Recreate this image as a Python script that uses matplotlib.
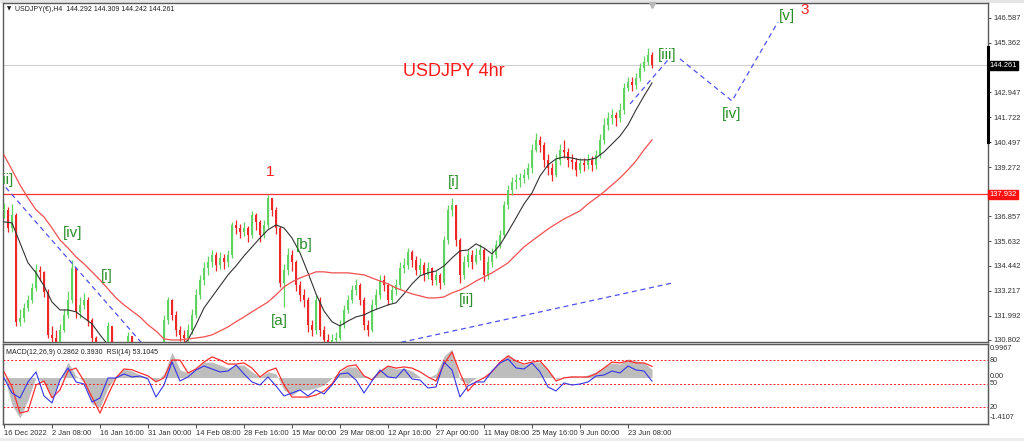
import matplotlib
matplotlib.use("Agg")
import matplotlib.pyplot as plt
import matplotlib.transforms as mtransforms
from matplotlib.patches import Rectangle
import numpy as np

plt.rcParams["font.family"] = ["Liberation Sans", "DejaVu Sans"]

# ---- data ----
# one candle per column
closes = [
    137.18, 136.29, 136.93, 131.69, 131.88, 132.37, 132.76, 133.35, 134.23, 134.14,
    133.16, 131.05, 130.90, 130.70, 131.29, 132.03, 132.76, 134.33, 132.18, 132.52,
    132.76, 131.78, 130.90, 130.21, 129.60, 129.20, 131.50, 129.80, 129.00, 128.40,
    128.90, 131.00, 129.60, 128.60, 128.00, 127.60, 127.90, 128.50, 129.20, 129.90,
    131.78, 132.76, 132.03, 131.29, 131.05, 130.90, 131.29, 132.03, 133.01, 133.74,
    134.33, 134.63, 134.97, 134.48, 134.82, 134.63, 134.97, 136.44, 136.29, 136.10,
    136.29, 135.95, 136.93, 136.59, 135.95, 136.44, 137.76, 137.18, 136.29, 133.60,
    134.23, 134.97, 134.63, 133.50, 133.01, 132.76, 131.54, 131.29, 132.76, 131.29,
    130.80, 130.56, 130.80, 130.90, 131.54, 132.27, 132.76, 133.25, 133.50, 132.76,
    131.54, 131.29, 132.52, 133.01, 133.74, 133.50, 132.76, 133.25, 133.50, 134.33,
    134.48, 135.12, 134.72, 134.23, 134.48, 133.99, 134.33, 133.74, 133.99, 133.60,
    135.70, 137.18, 137.42, 135.70, 133.99, 134.63, 134.97, 134.63, 134.97, 135.21,
    133.99, 134.63, 134.97, 135.46, 135.95, 137.42, 138.16, 138.55, 138.65, 138.74,
    138.89, 139.23, 140.12, 140.61, 140.36, 139.63, 139.23, 138.89, 139.63, 140.12,
    140.02, 139.63, 139.53, 139.14, 139.48, 139.38, 139.63, 139.38, 139.87, 140.61,
    141.34, 141.68, 141.83, 141.68, 142.08, 143.16, 143.45, 143.30, 143.65, 144.14,
    144.43, 144.77, 144.261,
]
highs = [
    137.50, 137.30, 137.45, 137.00, 132.30, 132.60, 133.00, 133.60, 134.50, 134.45,
    134.20, 133.30, 131.50, 131.30, 131.60, 132.30, 133.20, 134.70, 134.20, 132.90,
    133.10, 132.90, 131.90, 131.00, 130.30, 129.80, 131.70, 131.40, 129.90, 129.10,
    129.30, 131.20, 131.00, 129.80, 128.80, 128.20, 128.20, 128.70, 129.40, 130.20,
    132.00, 132.90, 132.80, 132.20, 131.50, 131.30, 131.60, 132.30, 133.30, 134.00,
    134.60, 134.90, 135.20, 135.10, 135.10, 135.00, 135.20, 136.60, 136.70, 136.50,
    136.60, 136.40, 137.10, 137.00, 136.70, 136.70, 137.93, 137.70, 137.30, 136.40,
    134.50, 135.30, 135.20, 134.70, 133.70, 133.30, 132.90, 131.80, 133.00, 132.90,
    131.50, 131.10, 131.10, 131.20, 131.80, 132.50, 133.00, 133.50, 133.80, 133.60,
    132.90, 131.80, 132.80, 133.30, 134.00, 134.00, 133.60, 133.50, 133.80, 134.60,
    134.80, 135.30, 135.20, 134.90, 134.80, 134.60, 134.60, 134.40, 134.20, 134.10,
    135.90, 137.40, 137.76, 137.40, 135.80, 134.90, 135.20, 135.20, 135.30, 135.50,
    135.30, 134.90, 135.30, 135.70, 136.20, 137.60, 138.40, 138.80, 138.95, 139.00,
    139.20, 139.50, 140.40, 140.95, 140.80, 140.50, 139.90, 139.50, 139.90, 140.40,
    140.60, 140.20, 139.90, 139.70, 139.70, 139.70, 139.90, 139.80, 140.10, 140.90,
    141.70, 142.00, 142.10, 142.00, 142.40, 143.40, 143.70, 143.70, 143.90, 144.40,
    144.70, 145.10, 144.90,
]
lows = [
    136.80, 136.10, 136.10, 131.50, 131.50, 131.70, 132.20, 132.60, 133.20, 133.70,
    132.90, 130.90, 130.60, 130.40, 130.50, 131.20, 131.90, 132.60, 131.90, 131.90,
    132.30, 131.50, 130.60, 129.90, 129.20, 128.90, 129.10, 129.50, 128.70, 128.10,
    128.20, 128.80, 129.30, 128.40, 127.80, 127.30, 127.40, 127.70, 128.30, 129.00,
    129.80, 131.60, 131.80, 131.00, 130.75, 130.60, 130.70, 131.10, 131.90, 132.80,
    133.50, 134.00, 134.40, 134.20, 134.30, 134.30, 134.40, 134.80, 136.00, 135.80,
    135.90, 135.60, 135.80, 136.20, 135.60, 135.80, 136.30, 136.90, 136.00, 133.40,
    132.40, 134.00, 134.20, 133.20, 132.70, 132.40, 131.20, 131.00, 131.10, 131.00,
    130.50, 130.30, 130.40, 130.60, 130.80, 131.40, 132.10, 132.60, 133.00, 132.50,
    131.30, 131.00, 131.20, 132.30, 132.80, 133.20, 132.50, 132.60, 133.00, 133.30,
    134.10, 134.30, 134.40, 134.00, 134.00, 133.70, 133.80, 133.50, 133.50, 133.30,
    133.50, 135.50, 136.90, 135.40, 133.60, 133.80, 134.40, 134.30, 134.50, 134.70,
    133.70, 133.80, 134.40, 134.80, 135.30, 135.80, 137.20, 137.90, 138.20, 138.30,
    138.50, 138.70, 139.00, 140.00, 140.00, 139.30, 138.90, 138.60, 138.80, 139.40,
    139.70, 139.30, 139.20, 138.85, 139.00, 139.10, 139.20, 139.10, 139.20, 139.70,
    140.40, 141.10, 141.40, 141.30, 141.50, 141.90, 143.00, 143.00, 143.10, 143.50,
    144.00, 144.30, 144.15,
]

# indicators, one value every second candle
ma_fast = [
    136.59, 136.54, 135.56, 134.58, 134.09, 133.45, 132.66, 132.27, 132.27, 132.18,
    131.88, 131.59, 131.05, 130.56, 130.21, 129.92, 129.72, 129.58, 129.58, 129.72,
    129.92, 130.21, 130.46, 130.80, 131.54, 132.37, 132.91, 133.45, 133.99, 134.43,
    134.92, 135.36, 135.80, 136.20, 136.44, 136.29, 135.80, 135.07, 134.09, 133.06,
    132.22, 131.69, 131.49, 131.73, 131.93, 132.03, 132.22, 132.37, 132.52, 132.62,
    133.06, 133.55, 133.94, 134.09, 134.18, 134.43, 134.82, 135.17, 135.21, 135.51,
    135.31, 135.02, 135.46, 136.10, 136.78, 137.47, 138.01, 138.84, 139.38, 139.68,
    139.77, 139.72, 139.63, 139.63, 139.72, 140.02, 140.41, 140.80, 141.34, 142.08,
    142.76, 143.40,
]
ma_slow = [
    139.87, 139.14, 138.40, 137.76, 137.18, 136.83, 136.29, 135.70, 135.31, 134.87,
    134.53, 134.14, 133.74, 133.30, 132.86, 132.52, 132.22, 131.93, 131.54, 131.24,
    130.85, 130.80, 130.80, 130.85, 130.90, 130.95, 131.05, 131.24, 131.44, 131.69,
    131.93, 132.18, 132.42, 132.66, 133.01, 133.40, 133.65, 133.84, 133.99, 134.14,
    134.14, 134.09, 134.09, 134.09, 134.04, 133.99, 133.84, 133.69, 133.55, 133.35,
    133.20, 133.06, 132.96, 132.86, 132.86, 132.91, 133.11, 133.25, 133.45, 133.69,
    133.89, 134.09, 134.33, 134.58, 134.97, 135.36, 135.66, 135.95, 136.24, 136.49,
    136.73, 136.93, 137.13, 137.47, 137.76, 138.06, 138.40, 138.74, 139.14, 139.58,
    140.12, 140.61,
]
macd_main = [
    0.09, -0.96, -1.41, -0.78, 0.02, -0.19, -0.68, -0.08, 0.54, 0.06,
    -0.15, -0.92, -1.03, -0.36, 0.06, 0.30, 0.23, 0.09, 0.02, -0.12,
    0.13, 0.89, 0.27, 0.16, 0.30, 0.54, 0.54, 0.44, 0.33, 0.44,
    0.44, 0.20, 0.02, 0.20, 0.13, -0.43, -0.61, -0.43, -0.43, -0.36,
    -0.26, -0.01, 0.20, 0.37, 0.37, 0.06, -0.01, 0.27, 0.40, 0.30,
    0.33, 0.23, 0.02, -0.01, 0.13, 0.75, 0.99, -0.08, -0.22, -0.01,
    0.02, 0.23, 0.54, 0.82, 0.58, 0.44, 0.54, 0.54, 0.27, -0.05,
    0.02, 0.06, 0.02, 0.09, 0.20, 0.37, 0.51, 0.47, 0.65, 0.58,
    0.51, 0.29,
]
macd_signal = [
    0.20, -0.33, -1.24, -1.17, -0.26, -0.12, -0.71, -0.43, 0.23, 0.33,
    -0.12, -0.68, -1.24, -0.61, -0.01, 0.30, 0.27, 0.16, 0.06, -0.15,
    -0.01, 0.61, 0.61, 0.16, 0.30, 0.54, 0.72, 0.61, 0.47, 0.47,
    0.51, 0.33, 0.02, 0.23, 0.33, -0.26, -0.68, -0.68, -0.68, -0.61,
    -0.47, -0.22, 0.23, 0.40, 0.44, 0.06, -0.08, 0.20, 0.40, 0.33,
    0.37, 0.33, 0.20, 0.02, -0.12, 0.47, 0.89, 0.16, -0.47, -0.15,
    -0.01, 0.20, 0.54, 0.75, 0.58, 0.47, 0.54, 0.58, 0.27, -0.12,
    -0.01, 0.02, 0.02, 0.02, 0.13, 0.33, 0.54, 0.51, 0.58, 0.51,
    0.51, 0.39,
]
rsi = [
    57.1, 37.9, 31.5, 52.0, 64.8, 34.1, 25.2, 54.5, 69.9, 52.0,
    49.4, 26.4, 31.5, 57.1, 57.1, 62.2, 58.4, 59.6, 55.8, 32.8,
    48.1, 77.5, 53.3, 58.4, 67.3, 72.4, 68.6, 64.8, 66.0, 73.7,
    62.2, 52.0, 48.1, 58.4, 46.9, 34.1, 37.9, 41.8, 34.1, 41.8,
    36.7, 48.1, 62.2, 63.5, 54.5, 37.9, 53.3, 67.3, 58.4, 57.1,
    68.6, 55.8, 54.5, 44.3, 45.6, 77.5, 67.3, 32.8, 46.9, 52.0,
    52.0, 66.0, 76.2, 81.3, 69.9, 68.6, 76.2, 64.8, 45.6, 40.5,
    50.7, 48.1, 49.4, 52.0, 59.6, 60.9, 66.0, 63.5, 72.4, 67.3,
    66.0, 53.1,
]

date_labels = ["16 Dec 2022", "2 Jan 08:00", "16 Jan 16:00", "31 Jan 00:00",
               "14 Feb 08:00", "28 Feb 16:00", "15 Mar 00:00", "29 Mar 08:00",
               "12 Apr 16:00", "27 Apr 00:00", "11 May 08:00", "25 May 16:00",
               "9 Jun 00:00", "23 Jun 08:00"]
price_ticks = [146.587, 145.362, 142.947, 141.722, 140.497, 139.272,
               136.857, 135.632, 134.442, 133.217, 131.992, 130.802]
last_price = 144.261
level_price = 137.932

# trend lines / wave projection (bar, price)
chan_x, chan_y = [-1, 40], [138.60, 129.40]
trend_x, trend_y = [95, 167.25], [130.50, 133.60]
proj1_x, proj1_y = [156.5, 166], [142.37, 144.53]
proj2_x, proj2_y = [169, 182, 193.5], [144.58, 142.52, 146.39]

wave_labels = [("[ii]", 0.5, 138.65), ("[iv]", 17.25, 136.05), ("[i]", 25.75, 133.94),
               ("[a]", 68.75, 131.73), ("[b]", 75, 135.46), ("[i]", 112.5, 138.55),
               ("[ii]", 115.5, 132.76), ("[iii]", 165.75, 144.77),
               ("[iv]", 182, 141.88), ("[v]", 195.75, 146.68)]
red_labels = [("1", 66.5, 139.04), ("3", 200.25, 146.98)]

# ---- figure ----
fig = plt.figure(figsize=(10.24, 4.41), dpi=100, facecolor="white")
fig.patches.append(Rectangle((0, 438 / 441), 1, 3 / 441, transform=fig.transFigure,
                             fc="#e6e6e6", ec="none", zorder=-1))
fig.patches.append(Rectangle((0, 0), 1, 3 / 441, transform=fig.transFigure,
                             fc="#ececec", ec="none", zorder=-1))

ax = fig.add_axes([3 / 1024, 99 / 441, 985 / 1024, 339 / 441])
ax2 = fig.add_axes([3 / 1024, 17 / 441, 985 / 1024, 80 / 441])

for a in (ax, ax2):
    a.set_xlim(-0.25, 246)
    for s in a.spines.values():
        s.set_color("#5a5a5a")
        s.set_linewidth(1.0)

ax.set_ylim(130.70, 147.32)

# candles
c = np.array(closes)
o = np.r_[c[0], c[:-1]]
idx = np.arange(len(c))
up = c >= o
cols = np.where(up, "#5fd35f", "#ee2626")
ax.vlines(idx, lows, highs, colors=cols, lw=0.9, zorder=3)
body = np.maximum(np.abs(c - o), 0.05)
ax.bar(idx, body, bottom=np.minimum(o, c), width=0.7,
       color=cols, linewidth=0, zorder=3)

ind_x = np.arange(len(ma_fast)) * 2
ax.plot(ind_x, ma_fast, color="#333333", lw=0.8, zorder=4)
ax.plot(ind_x, ma_slow, color="#f25050", lw=0.9, zorder=4)

ax.axhline(last_price, color="#cfcfcf", lw=0.8, zorder=1)
ax.axhline(level_price, color="#ff3030", lw=0.9, zorder=2)

dash = dict(color="#5050f0", lw=0.9, dashes=(4, 3), zorder=5)
ax.plot(chan_x, chan_y, **dash)
ax.plot(trend_x, trend_y, **dash)
ax.plot(proj1_x, proj1_y, **dash)
ax.plot(proj2_x, proj2_y, **dash)

for s, x, y in wave_labels:
    ax.text(x, y, s, color="#2a8f2a", fontsize=11, ha="center", va="center",
            zorder=6, clip_on=True)
for s, x, y in red_labels:
    ax.text(x, y, s, color="#ff2020", fontsize=11, ha="center", va="center", zorder=6)
ax.text(112.5, 143.94, "USDJPY 4hr", color="#ff1a1a", fontsize=13,
        ha="center", va="center", zorder=6)

ax.text(0.012, 0.982, "USDJPY(€),H4  144.292 144.309 144.242 144.261",
        transform=ax.transAxes, fontsize=5.0, color="#202020", va="center")
ax.text(0.004, 0.982, "▼", transform=ax.transAxes, fontsize=4, color="#202020",
        va="center", family="DejaVu Sans")
ax.plot([162], [147.2], marker="v", color="#b8b8b8", ms=4, zorder=6, clip_on=False)

ax.set_xticks([])
ax.yaxis.tick_right()
ax.set_yticks(price_ticks)
ax.set_yticklabels(["%.3f" % p for p in price_ticks])
ax.tick_params(axis="y", length=2, width=0.6, colors="#303030", labelsize=5.4, pad=2)

blend = mtransforms.blended_transform_factory(ax.transAxes, ax.transData)
ax.text(1.001, last_price, "144.261", transform=blend, fontsize=5.4, color="white",
        va="center", ha="left", bbox=dict(fc="black", ec="black", pad=0.9))
ax.text(1.001, level_price, "137.932", transform=blend, fontsize=5.4, color="white",
        va="center", ha="left", bbox=dict(fc="#ff1010", ec="#ff1010", pad=0.9))
ax.plot([1.0, 1.0], [140.51, 145.17], transform=blend, color="black", lw=2.2,
        clip_on=False, zorder=7)

# indicator window: MACD + RSI
ax2.set_ylim(-1.62, 1.17)
ax2.fill_between(ind_x, 0, macd_main, color="#bdbdbd", lw=0, zorder=2)
ax2.plot(ind_x, macd_signal, color="#ff3030", lw=0.9, zorder=3)

ax3 = ax2.twinx()
ax3.set_ylim(-1.7, 100.5)
for lvl in (80, 50, 20):
    ax3.axhline(lvl, color="#ff2020", lw=0.7, dashes=(2, 2), zorder=1)
ax3.plot(ind_x, rsi, color="#3535e8", lw=0.8, zorder=4)
for a in (ax2, ax3):
    a.tick_params(axis="y", left=False, right=False, labelleft=False, labelright=False)
    for s in a.spines.values():
        s.set_color("#5a5a5a")

ax2.text(0.003, 0.9, "MACD(12,26,9) 0.2862 0.3930  RSI(14) 53.1045",
         transform=ax2.transAxes, fontsize=5.0, color="#202020", va="center")

b2 = mtransforms.blended_transform_factory(ax2.transAxes, ax2.transData)
b3 = mtransforms.blended_transform_factory(ax3.transAxes, ax3.transData)
for v, s in ((0.9967, "0.9967"), (0.03, "0.00"), (-1.4107, "-1.4107")):
    ax2.text(1.002, v, s, transform=b2, fontsize=5.2, color="#303030", va="center")
for v in (80, 50, 20):
    ax3.text(1.002, v, str(v), transform=b3, fontsize=5.2, color="#303030", va="center")

ax2.set_xticks(np.arange(len(date_labels)) * 12)
ax2.set_xticklabels(date_labels)
for lbl in ax2.get_xticklabels():
    lbl.set_horizontalalignment("left")
ax2.tick_params(axis="x", length=3, width=0.6, colors="#303030", labelsize=5.4, pad=1.5)

fig.savefig("out.png", dpi=100, facecolor=fig.get_facecolor())
